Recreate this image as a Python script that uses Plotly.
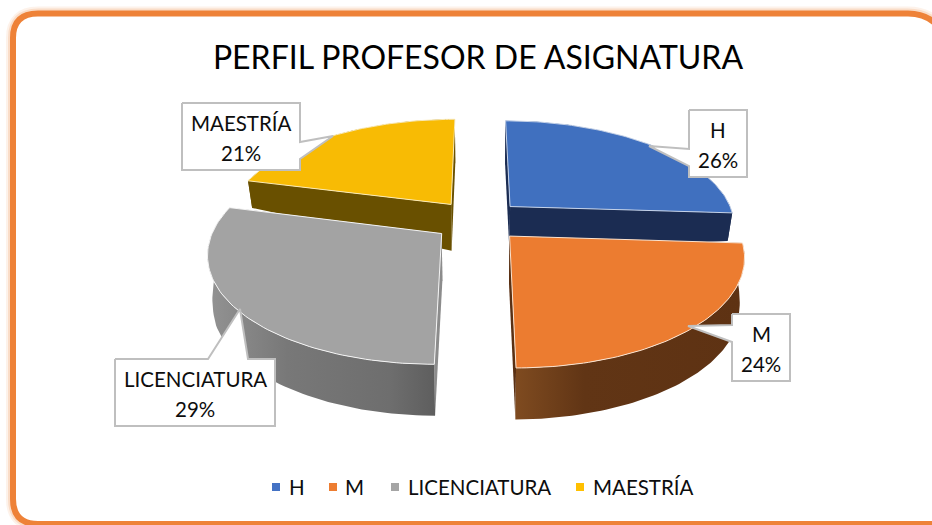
import numpy as np
import plotly.graph_objects as go

# ---- data ----
categories = ["H", "M", "LICENCIATURA", "MAESTRÍA"]
values = [26, 24, 29, 21]
chart_title = "PERFIL PROFESOR DE ASIGNATURA"

# ---- styles ----
top_colors = ["#4070bf", "#ec7c30", "#a3a3a3", "#f8bb04"]
edge_colors = ["#c5d3ea", "#fbe3cf", "#f4f4f4", "#fbeab5"]
legend_colors = ["#4472c4", "#ed7d31", "#a5a5a5", "#ffc000"]
side_colors = ["#1b2c52", "#5a3013", "#8c8c8c", "#695000"]
wall_scales = [
    [[0, "#1b2c52"], [1, "#1b2c52"]],
    [[0, "#7f4b20"], [0.3, "#613515"], [1, "#5e3213"]],
    [[0, "#939393"], [0.35, "#787878"], [0.8, "#6e6e6e"], [1, "#5e5e5e"]],
    [[0, "#695000"], [1, "#695000"]],
]
# callout outlines in pixels: box (x0, y0, x1, y1), pointer base a, tip, pointer base b
callouts = {
    "H": ((689, 110, 747, 177), (689, 149), (649, 146), (689, 166), "left"),
    "M": ((732, 314, 790, 381), (732, 325), (688, 326), (732, 342), "left"),
    "LICENCIATURA": ((115, 359, 275, 426), (208, 359), (240, 309), (248, 359), "top"),
    "MAESTRÍA": ((182, 103, 300, 170), (300, 142), (333, 136), (300, 159), "right"),
}
# legend row in pixels
legend_marker_x = [276, 333, 395, 580]
legend_text_x = [289, 345, 408, 593]
LEGEND_Y = 487

# ---- 3-D pie projection ----
X0, Y0, A, B, K, EXPLODE, SHRINK = 478.0, 220.5, 225.0, 104.2, 0.166, 0.2, 0.018


def project(px, py):
    return X0 + A * px / (1 - K * py), Y0 + B * py / (1 - K * py)


def depth(px, py):
    w = np.minimum(np.abs(px) / 1.15, 1.0)
    rim = np.clip(31 + 39 * py, 26, 50)
    return (1 - w) * (49 + 2.5 * py) + w * rim


def lower(px, py):
    x, y = project(px, py)
    return x - SHRINK * (x - X0), y + depth(px, py)


fig = go.Figure()
total = sum(values)
fractions = np.cumsum([0] + values) / total
order = [3, 0, 2, 1]  # back to front

for i in order:
    a0, a1 = 2 * np.pi * fractions[i], 2 * np.pi * fractions[i + 1]
    mid = (a0 + a1) / 2
    ox, oy = EXPLODE * np.sin(mid), -EXPLODE * np.cos(mid)
    th = np.linspace(a0, a1, 80)
    rx, ry = ox + np.sin(th), oy - np.cos(th)
    # radial walls
    for k in (0, -1):
        ex = np.linspace(ox, rx[k], 20)
        ey = np.linspace(oy, ry[k], 20)
        tx, ty = project(ex, ey)
        bx, by = lower(ex, ey)
        fig.add_trace(go.Scatter(
            x=np.r_[tx, bx[::-1]], y=np.r_[ty, by[::-1]], mode="lines", fill="toself",
            fillcolor=side_colors[i], line=dict(width=0), showlegend=False, hoverinfo="skip"))
    # outer wall
    tx, ty = project(rx, ry)
    bx, by = lower(rx, ry)
    wx, wy = np.r_[tx, bx[::-1]], np.r_[ty, by[::-1]]
    fig.add_trace(go.Scatter(
        x=wx, y=wy, mode="lines", fill="toself",
        fillgradient=dict(type="horizontal", colorscale=wall_scales[i],
                          start=float(wx.min()), stop=float(wx.max())),
        line=dict(width=0), showlegend=False, hoverinfo="skip"))
    # top face
    sx, sy = project(np.r_[ox, rx, ox], np.r_[oy, ry, oy])
    fig.add_trace(go.Scatter(
        x=sx, y=sy, mode="lines", fill="toself", fillcolor=top_colors[i], name=categories[i],
        line=dict(color=edge_colors[i], width=1), showlegend=False, hoverinfo="skip"))

# callouts
TEXT = dict(size=20.5, color="#0d0d0d", family="Lato")
annotations = []
for name, value in zip(categories, values):
    (x0, y0, x1, y1), pa, tip, pb, side = callouts[name]
    if side == "left":
        path = [(x0, y0), (x1, y0), (x1, y1), (x0, y1), pb, tip, pa, (x0, y0)]
    elif side == "right":
        path = [(x0, y0), (x1, y0), pa, tip, pb, (x1, y1), (x0, y1), (x0, y0)]
    else:
        path = [(x0, y0), pa, tip, pb, (x1, y0), (x1, y1), (x0, y1), (x0, y0)]
    fig.add_trace(go.Scatter(
        x=[p[0] for p in path], y=[p[1] for p in path], mode="lines", fill="toself",
        fillcolor="#ffffff", line=dict(color="#bfbfbf", width=2), showlegend=False, hoverinfo="skip"))
    xc = (x0 + x1) / 2
    annotations.append(dict(x=xc, y=y0 + 19.5, text=name, showarrow=False, font=TEXT,
                            xanchor="center", yanchor="middle"))
    annotations.append(dict(x=xc, y=y0 + 49.5, text=f"{round(value / total * 100)}%", showarrow=False,
                            font=TEXT, xanchor="center", yanchor="middle"))

# legend row
for name, c, mx, tx in zip(categories, legend_colors, legend_marker_x, legend_text_x):
    fig.add_trace(go.Scatter(x=[mx], y=[LEGEND_Y], mode="markers", name=name, showlegend=False,
                             marker=dict(symbol="square", size=8, color=c), hoverinfo="skip"))
    annotations.append(dict(x=tx, y=LEGEND_Y, text=name, showarrow=False, font=TEXT,
                            xanchor="left", yanchor="middle", xshift=-2))

frame = ("M 13 38 Q 13 13.5 38 13.5 L 908 13.5 Q 925 13.5 936 24 "
         "L 936 524 L 38 524 Q 13 524 13 499 Z")
shapes = [
    dict(type="path", path=frame, line=dict(color="rgba(237,125,49,0.10)", width=14), layer="below"),
    dict(type="path", path=frame, line=dict(color="rgba(237,125,49,0.18)", width=10), layer="below"),
    dict(type="path", path=frame, fillcolor="#ffffff", line=dict(color="#ee8238", width=6), layer="below"),
]

fig.update_layout(
    width=932, height=525, margin=dict(l=0, r=0, t=0, b=0), showlegend=False,
    paper_bgcolor="#ffffff", plot_bgcolor="#ffffff",
    xaxis=dict(range=[0, 932], visible=False, fixedrange=True),
    yaxis=dict(range=[525, 0], visible=False, fixedrange=True),
    title=dict(text=chart_title, x=478 / 932, y=1 - 58 / 525, xanchor="center", yanchor="middle",
               font=dict(size=32, color="#000000", family="Lato")),
    font=dict(family="Lato"),
    shapes=shapes, annotations=annotations,
)
fig.write_html("out.html", config={"displayModeBar": False},
               post_script="document.body.style.margin='0';document.body.style.overflow='hidden';")
